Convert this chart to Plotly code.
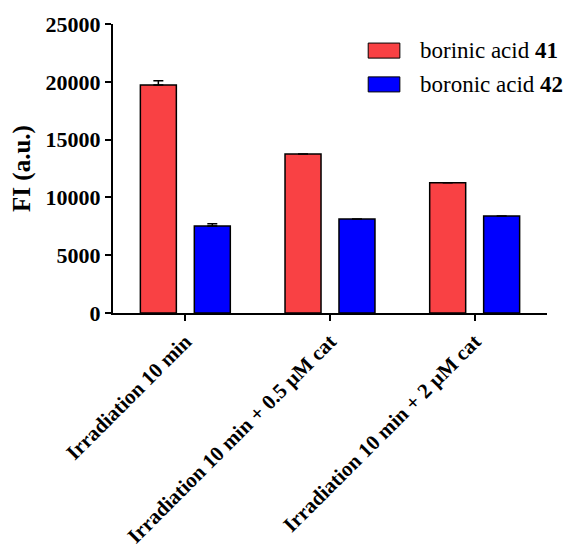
import plotly.graph_objects as go

# data
conditions = ["Irradiation 10 min",
              "Irradiation 10 min + 0.5 µM cat",
              "Irradiation 10 min + 2 µM cat"]
borinic_41 = [19720, 13750, 11270]
boronic_42 = [7530, 8130, 8390]
borinic_41_err = [380, 0, 0]
boronic_42_err = [200, 0, 0]
series_names = ["borinic acid <b>41</b>", "boronic acid <b>42</b>"]
series_colors = ["#F94144", "#0000FF"]
y_ticks = [0, 5000, 10000, 15000, 20000, 25000]

FONT = "Times New Roman, Liberation Serif, Noto Serif, DejaVu Serif, serif"

fig = go.Figure()
for vals, errs, name, col in zip([borinic_41, boronic_42], [borinic_41_err, boronic_42_err],
                                 series_names, series_colors):
    fig.add_trace(go.Bar(
        x=conditions, y=vals, name=name,
        marker=dict(color=col, line=dict(color="black", width=1.5)),
        error_y=dict(type="data", symmetric=False, array=errs, arrayminus=[0] * len(errs),
                     color="black", thickness=1.5, width=5),
        showlegend=False,
    ))

# hand drawn legend (wide boxes as in the original)
for i, (name, col) in enumerate(zip(series_names, series_colors)):
    yc = 0.908 - i * 0.117
    fig.add_shape(type="rect", xref="paper", yref="paper",
                  x0=0.588, x1=0.661, y0=yc - 0.026, y1=yc + 0.026,
                  fillcolor=col, line=dict(color="black", width=1))
    fig.add_annotation(xref="paper", yref="paper", x=0.702, y=yc, text=name,
                       showarrow=False, xanchor="left", yanchor="middle",
                       font=dict(family=FONT, size=23, color="black", weight="normal"))

fig.update_layout(
    width=573, height=551,
    margin=dict(l=105, r=34, t=16, b=246),
    paper_bgcolor="white", plot_bgcolor="white",
    barmode="group", bargap=0.254, bargroupgap=0.333,
    font=dict(family=FONT, color="black"),
    xaxis=dict(
        showline=True, linecolor="black", linewidth=2,
        ticks="outside", ticklen=6, tickwidth=2, tickcolor="black",
        tickangle=-45, tickfont=dict(family=FONT, size=21, weight="bold"),
        showgrid=False, automargin=False,
    ),
    yaxis=dict(
        range=[0, 25000], tickvals=y_ticks, tickformat="d",
        showline=True, linecolor="black", linewidth=2,
        ticks="outside", ticklen=6, tickwidth=2, tickcolor="black",
        tickfont=dict(family=FONT, size=22, weight="bold"),
        showgrid=False, zeroline=False, automargin=False,
        title=dict(text="FI (a.u.)", font=dict(family=FONT, size=25, weight="bold"),
                   standoff=8),
    ),
)

fig.write_html("out.html")
